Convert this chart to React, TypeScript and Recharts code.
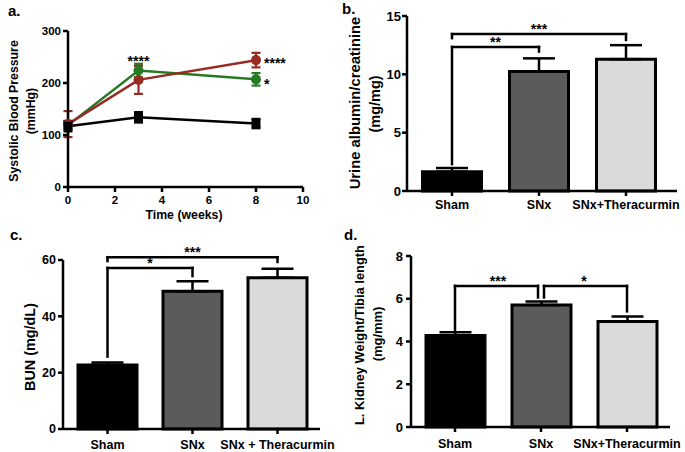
import React from 'react';
import {
  ComposedChart,
  Line,
  Bar,
  XAxis,
  YAxis,
  ErrorBar,
  ReferenceLine,
  LabelList,
  Cell,
} from 'recharts';

const FONT = '"Liberation Sans", Arial, Helvetica, sans-serif';

// ---------- Panel a: systolic blood pressure over time ----------
const weeks = [0, 3, 8];
const shamBP = [117, 134, 122];
const shamBPErr = [10, 10, 9];
const snxBP = [121, 206, 244];
const snxBPErr = [25, 27, 14];
const theraBP = [119, 224, 207];
const theraBPErr = [8, 13, 12];
const snxBPSig = ['', '', '****'];
const theraBPSig = ['', '****', '*'];
const timeTicks = [0, 2, 4, 6, 8, 10];
const bpTicks = [0, 100, 200, 300];

// ---------- Bar panels ----------
const groupsB = ['Sham', 'SNx', 'SNx+Theracurmin'];
const groupsC = ['Sham', 'SNx', 'SNx + Theracurmin'];
const groupsD = ['Sham', 'SNx', 'SNx+Theracurmin'];

const albumin = [1.65, 10.25, 11.3];
const albuminErr = [0.32, 1.12, 1.2];
const albuminTicks = [0, 5, 10, 15];

const bun = [22.75, 48.9, 53.7];
const bunErr = [0.85, 3.6, 3.2];
const bunTicks = [0, 20, 40, 60];

const kidney = [4.28, 5.71, 4.93];
const kidneyErr = [0.15, 0.16, 0.24];
const kidneyTicks = [0, 2, 4, 6, 8];

type Bracket = { from: string; to: string; y: number; fromEnd: number; toEnd: number; label: string };

const albuminBrackets: Bracket[] = [
  { from: 'Sham', to: 'SNx', y: 12.35, fromEnd: 2.3, toEnd: 11.95, label: '**' },
  { from: 'Sham', to: 'SNx+Theracurmin', y: 13.45, fromEnd: 13.1, toEnd: 12.95, label: '***' },
];
const bunBrackets: Bracket[] = [
  { from: 'Sham', to: 'SNx', y: 57.2, fromEnd: 25.7, toEnd: 54.3, label: '*' },
  { from: 'Sham', to: 'SNx + Theracurmin', y: 61, fromEnd: 59.6, toEnd: 59.3, label: '***' },
];
const kidneyBrackets: Bracket[] = [
  { from: 'Sham', to: 'SNx', y: 6.6, fromEnd: 4.55, toEnd: 6.06, label: '***' },
  { from: 'SNx', to: 'SNx+Theracurmin', y: 6.6, fromEnd: 6.06, toEnd: 5.41, label: '*' },
];

const groupFills = ['#000000', '#5b5b5b', '#dadada'];
const RED = '#972b24';
const GREEN = '#267a24';

const axisLineStyle = { stroke: '#000', strokeWidth: 2.5 };

const seg = (dx1: number, dx2: number) => (p: any) => (
  <line
    x1={p.x1 + dx1}
    y1={p.y1}
    x2={p.x2 + dx2}
    y2={p.y2}
    stroke="#000"
    strokeWidth={2.5}
    strokeLinecap="square"
  />
);

type BarPanelProps = {
  left: number;
  top: number;
  width: number;
  height: number;
  margin: { top: number; right: number; bottom: number; left: number };
  yWidth: number;
  xHeight: number;
  cats: string[];
  values: number[];
  errs: number[];
  ticks: number[];
  brackets: Bracket[];
  tickFont: number;
  catFont: number;
  catMargin: number;
  yTickMargin: number;
  padding: { left: number; right: number };
};

function BarPanel(props: BarPanelProps) {
  const { cats, values, errs, ticks, brackets } = props;
  const data = cats.map((c, i) => ({ name: c, value: values[i], err: [0, errs[i]] }));
  const GAP = 3;
  const isTo = (c: string) => brackets.some((b) => b.to === c);
  const isFrom = (c: string) => brackets.some((b) => b.from === c);
  const shared = (c: string) => isTo(c) && isFrom(c);
  const lines: React.ReactNode[] = [];
  brackets.forEach((b, i) => {
    const dl = shared(b.from) ? GAP : 0;
    const dr = shared(b.to) ? -GAP : 0;
    lines.push(
      <ReferenceLine
        key={`h${i}`}
        segment={[
          { x: b.from, y: b.y },
          { x: b.to, y: b.y },
        ]}
        ifOverflow="visible"
        shape={seg(dl, dr)}
        label={{
          value: b.label,
          position: 'top',
          offset: 0,
          fill: '#000',
          fontSize: 14,
          fontWeight: 700,
          fontFamily: FONT,
        }}
      />
    );
    lines.push(
      <ReferenceLine
        key={`l${i}`}
        segment={[
          { x: b.from, y: b.y },
          { x: b.from, y: b.fromEnd },
        ]}
        ifOverflow="visible"
        shape={seg(dl, dl)}
      />
    );
    lines.push(
      <ReferenceLine
        key={`r${i}`}
        segment={[
          { x: b.to, y: b.y },
          { x: b.to, y: b.toEnd },
        ]}
        ifOverflow="visible"
        shape={seg(dr, dr)}
      />
    );
  });
  const max = ticks[ticks.length - 1];
  return (
    <div style={{ position: 'absolute', left: props.left, top: props.top, width: props.width, height: props.height }}>
      <ComposedChart width={props.width} height={props.height} data={data} margin={props.margin}>
        <XAxis
          dataKey="name"
          type="category"
          height={props.xHeight}
          axisLine={axisLineStyle}
          tickLine={axisLineStyle}
          tickSize={5}
          tickMargin={props.catMargin}
          interval={0}
          padding={props.padding}
          tick={{ fill: '#000', fontSize: props.catFont, fontWeight: 700, fontFamily: FONT }}
        />
        <YAxis
          type="number"
          domain={[0, max]}
          ticks={ticks}
          interval={0}
          width={props.yWidth}
          axisLine={axisLineStyle}
          tickLine={axisLineStyle}
          tickSize={5}
          tickMargin={props.yTickMargin}
          tick={{ fill: '#000', fontSize: props.tickFont, fontWeight: 700, fontFamily: FONT }}
        />
        <Bar dataKey="value" barSize={59} stroke="#000" strokeWidth={3} isAnimationActive={false}>
          {data.map((d, i) => (
            <Cell key={d.name} fill={groupFills[i]} />
          ))}
          <ErrorBar dataKey="err" width={16} strokeWidth={2.5} stroke="#000" direction="y" />
        </Bar>
        {lines}
      </ComposedChart>
    </div>
  );
}

const squareDot = (color: string) => (p: any) => {
  if (p.cx == null || p.cy == null) return <g key={p.index} />;
  return <rect key={p.index} x={p.cx - 4.5} y={p.cy - 4.5} width={9} height={9} fill={color} />;
};
const circleDot = (color: string) => (p: any) => {
  if (p.cx == null || p.cy == null) return <g key={p.index} />;
  return <circle key={p.index} cx={p.cx} cy={p.cy} r={5} fill={color} />;
};

const sigContent = (last: number, rightDy: number) => (p: any) => {
  if (!p.value) return null;
  const common = { fill: '#000', fontSize: 14, fontWeight: 700, fontFamily: FONT } as any;
  if (p.index === last) {
    return (
      <text x={p.x + 8} y={p.y + rightDy} {...common}>
        {p.value}
      </text>
    );
  }
  return (
    <text x={p.x} y={p.y - 4.5} textAnchor="middle" {...common}>
      {p.value}
    </text>
  );
};

function LinePanel() {
  const data = weeks.map((t, i) => ({
    t,
    sham: shamBP[i],
    shamErr: shamBPErr[i],
    snx: snxBP[i],
    snxErr: snxBPErr[i],
    snxSig: snxBPSig[i],
    thera: theraBP[i],
    theraErr: theraBPErr[i],
    theraSig: theraBPSig[i],
  }));
  return (
    <div style={{ position: 'absolute', left: 0, top: 0, width: 340, height: 225 }}>
      <ComposedChart width={340} height={225} data={data} margin={{ top: 31, right: 37, bottom: 0, left: 0 }}>
        <XAxis
          dataKey="t"
          type="number"
          domain={[0, 10]}
          ticks={timeTicks}
          interval={0}
          height={38}
          axisLine={axisLineStyle}
          tickLine={axisLineStyle}
          tickSize={5}
          tickMargin={4}
          tick={{ fill: '#000', fontSize: 11.5, fontWeight: 700, fontFamily: FONT }}
        />
        <YAxis
          type="number"
          domain={[0, 300]}
          ticks={bpTicks}
          interval={0}
          width={68}
          axisLine={axisLineStyle}
          tickLine={axisLineStyle}
          tickSize={5}
          tickMargin={2}
          tick={{ fill: '#000', fontSize: 11.5, fontWeight: 700, fontFamily: FONT }}
        />
        <Line
          dataKey="thera"
          stroke={GREEN}
          strokeWidth={2.5}
          dot={circleDot(GREEN)}
          activeDot={false}
          isAnimationActive={false}
        >
          <ErrorBar dataKey="theraErr" width={4.5} strokeWidth={2.2} stroke={GREEN} direction="y" />
          <LabelList dataKey="theraSig" content={sigContent(2, 9.5)} />
        </Line>
        <Line
          dataKey="snx"
          stroke={RED}
          strokeWidth={2.5}
          dot={circleDot(RED)}
          activeDot={false}
          isAnimationActive={false}
        >
          <ErrorBar dataKey="snxErr" width={4.5} strokeWidth={2.2} stroke={RED} direction="y" />
          <LabelList dataKey="snxSig" content={sigContent(2, 8)} />
        </Line>
        <Line
          dataKey="sham"
          stroke="#000"
          strokeWidth={2.5}
          dot={squareDot('#000')}
          activeDot={false}
          isAnimationActive={false}
        >
          <ErrorBar dataKey="shamErr" width={4.5} strokeWidth={2.2} stroke="#000" direction="y" />
        </Line>
      </ComposedChart>
    </div>
  );
}

const RotText = ({ x, y, size, children }: { x: number; y: number; size: number; children: React.ReactNode }) => (
  <text
    x={x}
    y={y}
    transform={`rotate(-90 ${x} ${y})`}
    textAnchor="middle"
    dominantBaseline="central"
    fontSize={size}
    fontWeight={700}
    fontFamily={FONT}
    fill="#000"
  >
    {children}
  </text>
);

export default function App() {
  return (
    <div style={{ position: 'absolute', left: 0, top: 0, width: 685, height: 452, background: '#fff', overflow: 'hidden' }}>
      <LinePanel />
      <BarPanel
        left={340}
        top={0}
        width={345}
        height={225}
        margin={{ top: 16, right: 8, bottom: 0, left: 0 }}
        yWidth={67}
        xHeight={34}
        cats={groupsB}
        values={albumin}
        errs={albuminErr}
        ticks={albuminTicks}
        brackets={albuminBrackets}
        tickFont={13}
        catFont={12.5}
        catMargin={4}
        yTickMargin={1}
        padding={{ left: 1.5, right: 7.5 }}
      />
      <BarPanel
        left={0}
        top={225}
        width={340}
        height={227}
        margin={{ top: 35, right: 20, bottom: 0, left: 0 }}
        yWidth={63}
        xHeight={23}
        cats={groupsC}
        values={bun}
        errs={bunErr}
        ticks={bunTicks}
        brackets={bunBrackets}
        tickFont={12.5}
        catFont={12.5}
        catMargin={6}
        yTickMargin={2}
        padding={{ left: 2, right: 0 }}
      />
      <BarPanel
        left={340}
        top={225}
        width={345}
        height={227}
        margin={{ top: 31, right: 15, bottom: 0, left: 0 }}
        yWidth={71}
        xHeight={25}
        cats={groupsD}
        values={kidney}
        errs={kidneyErr}
        ticks={kidneyTicks}
        brackets={kidneyBrackets}
        tickFont={13}
        catFont={12.5}
        catMargin={7}
        yTickMargin={3}
        padding={{ left: 1, right: 0 }}
      />
      <svg width={685} height={452} style={{ position: 'absolute', left: 0, top: 0, pointerEvents: 'none' }}>
        <g fontFamily={FONT} fontWeight={700} fill="#000">
          <text x={8} y={16} fontSize={15}>a.</text>
          <text x={342} y={14} fontSize={15}>b.</text>
          <text x={10} y={240} fontSize={15}>c.</text>
          <text x={344} y={240} fontSize={15}>d.</text>
        </g>
        <RotText x={13.5} y={111} size={12.3}>Systolic Blood Pressure</RotText>
        <RotText x={31} y={111} size={12.3}>(mmHg)</RotText>
        <text
          x={184}
          y={215}
          textAnchor="middle"
          dominantBaseline="central"
          fontSize={12.3}
          fontWeight={700}
          fontFamily={FONT}
          fill="#000"
        >
          Time (weeks)
        </text>
        <RotText x={355} y={103} size={14.8}>Urine albumin/creatinine</RotText>
        <RotText x={375} y={104} size={14.5}>(mg/mg)</RotText>
        <RotText x={30} y={347} size={14.4}>BUN (mg/dL)</RotText>
        <RotText x={359} y={335} size={12.9}>L. Kidney Weight/Tibia length</RotText>
        <RotText x={377.5} y={334} size={12.9}>(mg/mm)</RotText>
      </svg>
    </div>
  );
}
